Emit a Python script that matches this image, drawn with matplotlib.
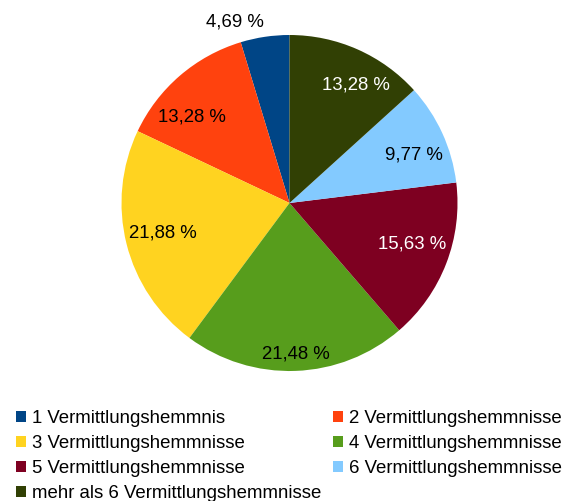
import numpy as np
import matplotlib.pyplot as plt

plt.rcParams['font.family'] = ['Liberation Sans', 'DejaVu Sans']

labels = ['1 Vermittlungshemmnis', '2 Vermittlungshemmnisse', '3 Vermittlungshemmnisse',
          '4 Vermittlungshemmnisse', '5 Vermittlungshemmnisse', '6 Vermittlungshemmnisse',
          'mehr als 6 Vermittlungshemmnisse']
shares = [4.69, 13.28, 21.88, 21.48, 15.63, 9.77, 13.28]
colors = ['#004586', '#ff420e', '#ffd320', '#579d1c', '#7e0021', '#83caff', '#314004']
text_colors = ['black', 'black', 'black', 'black', 'white', 'black', 'white']
# label placement: radius fraction and angle tweak (deg) relative to wedge middle
label_dist = [1.137, 0.78, 0.771, 0.887, 0.765, 0.80, 0.815]
label_turn = [8.2, 7.1, -1.6, 0.4, 3.4, -2.7, -5.1]

fig = plt.figure(figsize=(5.71, 5.01), dpi=100)
ax = fig.add_axes([0, 0, 1, 1])

cx, cy, r = 289.5, 501 - 203, 168
wedges, _ = ax.pie(shares, colors=colors, startangle=90, counterclock=True,
                   center=(cx, cy), radius=r, frame=True)
ax.set_xlim(0, 571)
ax.set_ylim(0, 501)
ax.axis('off')

for w, v, tc, d, t in zip(wedges, shares, text_colors, label_dist, label_turn):
    ang = np.deg2rad((w.theta1 + w.theta2) / 2 + t)
    x = cx + d * r * np.cos(ang)
    y = cy + d * r * np.sin(ang) - 2
    ax.text(x, y, ('%.2f %%' % v).replace('.', ','), color=tc,
            ha='center', va='center', fontsize=13.4)

# legend is filled column by column, so reorder to get row-wise order
order = [0, 2, 4, 6, 1, 3, 5]
leg = ax.legend([wedges[i] for i in order], [labels[i] for i in order], ncol=2,
                loc='upper left', bbox_to_anchor=(16 / 571, 1 - 410 / 501),
                frameon=False, fontsize=13.4, handlelength=0.54, handleheight=0.54,
                handletextpad=0.32, columnspacing=0.6, labelspacing=0.43,
                borderaxespad=0, borderpad=0)

fig.savefig('out.png', dpi=100)
